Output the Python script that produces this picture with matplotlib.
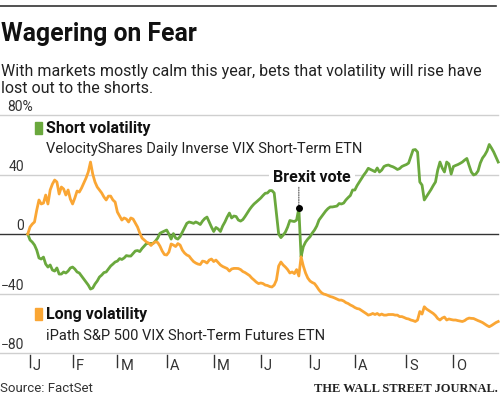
import numpy as np
import pandas as pd
import matplotlib
matplotlib.use("Agg")
import matplotlib.pyplot as plt
import matplotlib.transforms as mtransforms
from matplotlib.patches import Rectangle
from matplotlib import font_manager

# ---------------- data ----------------
holidays = ['2016-01-01', '2016-01-18', '2016-02-15', '2016-03-25',
            '2016-05-30', '2016-07-04', '2016-09-05']
dates = pd.bdate_range('2015-12-31', '2016-10-31', freq='C', holidays=holidays)

short_vol = [
    0, -4.0, -5.4, -7.4, -10.8, -16.1, -16.8, -15.5, -20.2, -22.2,
    -20.8, -24.2, -24.9, -22.8, -26.9, -26.9, -25.5, -26.2, -24.9, -22.8,
    -22.2, -23.5, -25.5, -26.2, -28.2, -30.3, -32.3, -34.3, -37.0, -36.3,
    -33.6, -31.6, -28.9, -27.6, -25.9, -25.5, -23.5, -21.5, -20.2, -18.8,
    -18.2, -16.5, -17.1, -16.1, -14.5, -14.8, -14.8, -13.1, -11.4, -11.1,
    -11.8, -9.7, -8.1, -6.4, -6.3, -6.3, -6.3, -4.7, -2.7, 0.5,
    1.3, 2.0, 2.7, 0.0, -3.4, 0.3, -2.7, -3.4, -1.7, 1.3,
    4.4, 7.2, 8.1, 7.7, 7.2, 8.1, 7.4, 6.4, 8.7, 10.4,
    11.4, 8.1, 4.7, 1.7, 4.4, 3.4, 1.7, 5.4, 8.1, 11.4,
    14.1, 10.8, 12.1, 11.8, 9.4, 8.7, 9.7, 11.8, 14.1, 16.5,
    18.5, 20.2, 21.5, 22.9, 24.2, 25.9, 27.4, 27.6, 29.2, 29.2,
    27.6, 14.1, 0.0, -2.4, -0.7, 1.3, 4.7, 9.1, 8.7, 8.4,
    9.4, 17.3, -15.3, -8.5, -5.4, -3.4, -1.8, 0.7, 2.7, 5.4,
    9.4, 11.4, 13.4, 15.5, 17.1, 18.2, 18.2, 18.5, 18.8, 20.5,
    20.2, 20.8, 22.9, 24.5, 25.9, 29.6, 29.6, 32.6, 35.0, 37.3,
    39.7, 41.7, 44.2, 43.4, 42.7, 41.9, 44.4, 41.7, 43.0, 45.4,
    46.1, 46.4, 45.7, 45.2, 44.4, 43.4, 44.0, 45.4, 46.1, 46.7,
    47.7, 52.1, 56.5, 56.8, 55.1, 35.0, 32.9, 22.9, 25.2, 27.6,
    29.9, 32.6, 35.0, 43.0, 48.4, 44.4, 41.7, 48.4, 47.1, 40.3,
    45.4, 46.1, 46.7, 47.5, 48.4, 49.7, 50.8, 46.1, 41.7, 39.7,
    40.3, 42.4, 47.7, 51.1, 53.1, 55.8, 60.2, 57.8, 55.1, 51.8,
    48.4]

long_vol = [
    0, 4.7, 6.7, 8.1, 16.1, 22.9, 20.2, 20.8, 26.2, 20.2,
    29.6, 33.6, 36.3, 35.0, 26.9, 31.6, 30.3, 26.2, 29.6, 23.5,
    20.2, 24.2, 28.9, 28.2, 30.9, 34.3, 37.6, 41.7, 48.4, 40.3,
    35.0, 31.6, 29.6, 27.6, 24.9, 22.9, 25.5, 25.5, 22.9, 21.5,
    14.8, 12.1, 9.4, 10.8, 10.1, 8.1, 10.8, 10.1, 7.4, 4.7,
    0.7, -2.7, -4.0, -5.4, -6.1, -7.7, -6.1, -5.2, -5.7, -8.1,
    -11.4, -13.8, -14.1, -12.1, -6.7, -7.4, -8.4, -6.4, -7.4, -10.8,
    -12.8, -14.1, -14.8, -16.8, -18.5, -19.5, -20.2, -20.5, -18.2, -18.5,
    -19.5, -17.5, -16.8, -18.5, -17.5, -19.2, -20.8, -21.8, -22.5, -23.2,
    -24.9, -23.5, -23.1, -23.1, -23.2, -23.9, -25.2, -25.9, -26.9, -27.9,
    -29.6, -30.9, -32.3, -33.3, -32.9, -33.3, -34.3, -34.6, -35.3, -35.6,
    -34.3, -30.9, -21.5, -18.8, -20.8, -22.2, -23.9, -26.2, -25.5, -26.6,
    -23.9, -28.2, -15.3, -21.5, -26.2, -29.6, -31.6, -32.6, -33.3, -35.3,
    -37.6, -39.3, -40.3, -40.7, -41.3, -42.0, -42.4, -43.0, -43.7, -44.4,
    -44.4, -45.0, -46.1, -46.7, -47.7, -48.4, -49.4, -50.1, -50.4, -51.4,
    -52.4, -53.4, -54.5, -54.1, -53.4, -54.1, -53.4, -54.5, -53.8, -54.5,
    -54.5, -54.1, -54.1, -54.1, -54.5, -54.5, -55.5, -55.5, -56.1, -56.8,
    -57.1, -57.8, -58.2, -58.8, -57.8, -52.1, -53.8, -48.9, -50.4, -51.4,
    -52.4, -53.4, -54.8, -56.8, -57.8, -56.5, -55.8, -57.8, -57.1, -57.5,
    -57.8, -57.8, -58.2, -58.5, -58.8, -58.2, -57.1, -56.5, -56.7, -56.8,
    -57.5, -58.2, -58.8, -59.5, -60.5, -61.5, -62.3, -61.5, -60.5, -59.5,
    -58.8]

y_ticks = [80, 40, 0, -40, -80]
y_tick_labels = ['80%', '40', '0', '\u221240', '\u221280']
month_labels = ['J', 'F', 'M', 'A', 'M', 'J', 'J', 'A', 'S', 'O']
brexit_date = '2016-06-23'

title = 'Wagering on Fear'
subtitle_lines = ['With markets mostly calm this year, bets that volatility will rise have',
                  'lost out to the shorts.']
short_name = 'Short volatility'
short_desc = 'VelocityShares Daily Inverse VIX Short-Term ETN'
long_name = 'Long volatility'
long_desc = 'iPath S&P 500 VIX Short-Term Futures ETN'
source = 'Source: FactSet'
credit = 'THE WALL STREET JOURNAL.'

# ---------------- style ----------------
GREEN = '#6aa83d'
ORANGE = '#faa634'
avail = {f.name for f in font_manager.fontManager.ttflist}
SANS = [f for f in ['Liberation Sans Narrow', 'Roboto', 'DejaVu Sans'] if f in avail]
plt.rcParams['font.family'] = SANS

W, H = 500, 399
fig = plt.figure(figsize=(W / 100, H / 100), dpi=100)
fig.patch.set_facecolor('white')

def fx(px):
    return px / W

def fy(py):
    return 1 - py / H

# axes covering the plot band (pixel rows 100..370)
ax = fig.add_axes([0, fy(370), 1, (370 - 100) / H])
ax.axis('off')
x = np.arange(len(dates))
ax.set_xlim(-12.4, 210.8)
ax.set_ylim(-91.4, 90.1)

# gridlines
for v in y_ticks:
    if v == 0:
        ax.axhline(v, xmin=0, xmax=0.996, color='#333333', lw=1.0, zorder=1)
    else:
        ax.axhline(v, xmin=0, xmax=0.996, color='#cfcfcf', lw=1.0, zorder=1)

blend = mtransforms.blended_transform_factory(ax.transAxes, ax.transData)
for v, lab in zip(y_ticks, y_tick_labels):
    if lab.endswith('%'):
        ax.annotate(lab, xy=(7 / W, v), xycoords=blend, xytext=(0, 4),
                    textcoords='offset pixels', ha='left', va='baseline',
                    fontsize=10, color='#333333')
    else:
        ax.annotate(lab, xy=(24 / W, v), xycoords=blend, xytext=(0, 4),
                    textcoords='offset pixels', ha='right', va='baseline',
                    fontsize=10, color='#333333')

# series
ax.plot(x, short_vol, color=GREEN, lw=2.0, solid_joinstyle='round', zorder=3)
ax.plot(x, long_vol, color=ORANGE, lw=2.0, solid_joinstyle='round', zorder=4)

# Brexit annotation
bi = int(np.where(dates == pd.Timestamp(brexit_date))[0][0]) + 1
bv = short_vol[bi]
ax.plot([bi], [bv], 'o', color='black', ms=4, zorder=6)
ax.annotate('', xy=(bi, bv), xytext=(0, 21), textcoords='offset pixels',
            arrowprops=dict(arrowstyle='-', linestyle=(0, (1, 1.2)), color='#555555',
                            lw=0.8, shrinkA=0, shrinkB=2), zorder=2.5)
ax.annotate('Brexit vote', xy=(bi, bv), xytext=(13, 26), textcoords='offset pixels',
            ha='center', va='baseline', fontsize=11.5, fontweight='bold', color='#111111',
            bbox=dict(boxstyle='square,pad=0.25', fc='white', ec='none'), zorder=2)

# month ticks
month_idx = [i for i in range(1, len(dates)) if dates[i].month != dates[i - 1].month]
for i, lab in zip(month_idx, month_labels):
    ax.plot([i, i], [-81.3, -89.4], color='#333333', lw=1.0, clip_on=False)
    ax.annotate(lab, xy=(i, -91.4), xytext=(3, 0), textcoords='offset pixels',
                ha='left', va='baseline', fontsize=10.5, color='#333333',
                annotation_clip=False)

# legend-style labels
fig.patches.append(Rectangle((fx(35), fy(133.5)), 7 / W, 11.5 / H,
                             transform=fig.transFigure, color=GREEN))
fig.text(fx(46), fy(133.5), short_name, fontsize=11.5, fontweight='bold',
         color='#111111', va='baseline', ha='left')
fig.text(fx(46), fy(153.5), short_desc, fontsize=10.5, color='#222222',
         va='baseline', ha='left')
fig.patches.append(Rectangle((fx(35), fy(319.5)), 7 / W, 11.5 / H,
                             transform=fig.transFigure, color=ORANGE))
fig.text(fx(46), fy(319.5), long_name, fontsize=11.5, fontweight='bold',
         color='#111111', va='baseline', ha='left')
fig.text(fx(46), fy(339.5), long_desc, fontsize=10.5, color='#222222',
         va='baseline', ha='left')

# header
fig.add_artist(plt.Line2D([0, fx(496)], [fy(5.5), fy(5.5)], transform=fig.transFigure,
                          color='#333333', lw=1.2))
fig.text(fx(1), fy(41.5), title, fontsize=17.8, fontweight='bold', color='#111111',
         va='baseline', ha='left')
fig.text(fx(1), fy(76), subtitle_lines[0], fontsize=11.5, color='#222222',
         va='baseline', ha='left')
fig.text(fx(1), fy(93), subtitle_lines[1], fontsize=11.5, color='#222222',
         va='baseline', ha='left')

# footer
fig.text(fx(0), fy(392.5), source, fontsize=9.5, color='#333333', va='baseline', ha='left')
fig.text(fx(498), fy(392.5), credit, fontsize=9, fontweight='bold', color='#222222',
         va='baseline', ha='right', family=['Liberation Serif', 'DejaVu Serif'])

fig.savefig('out.png', dpi=100, facecolor='white')
